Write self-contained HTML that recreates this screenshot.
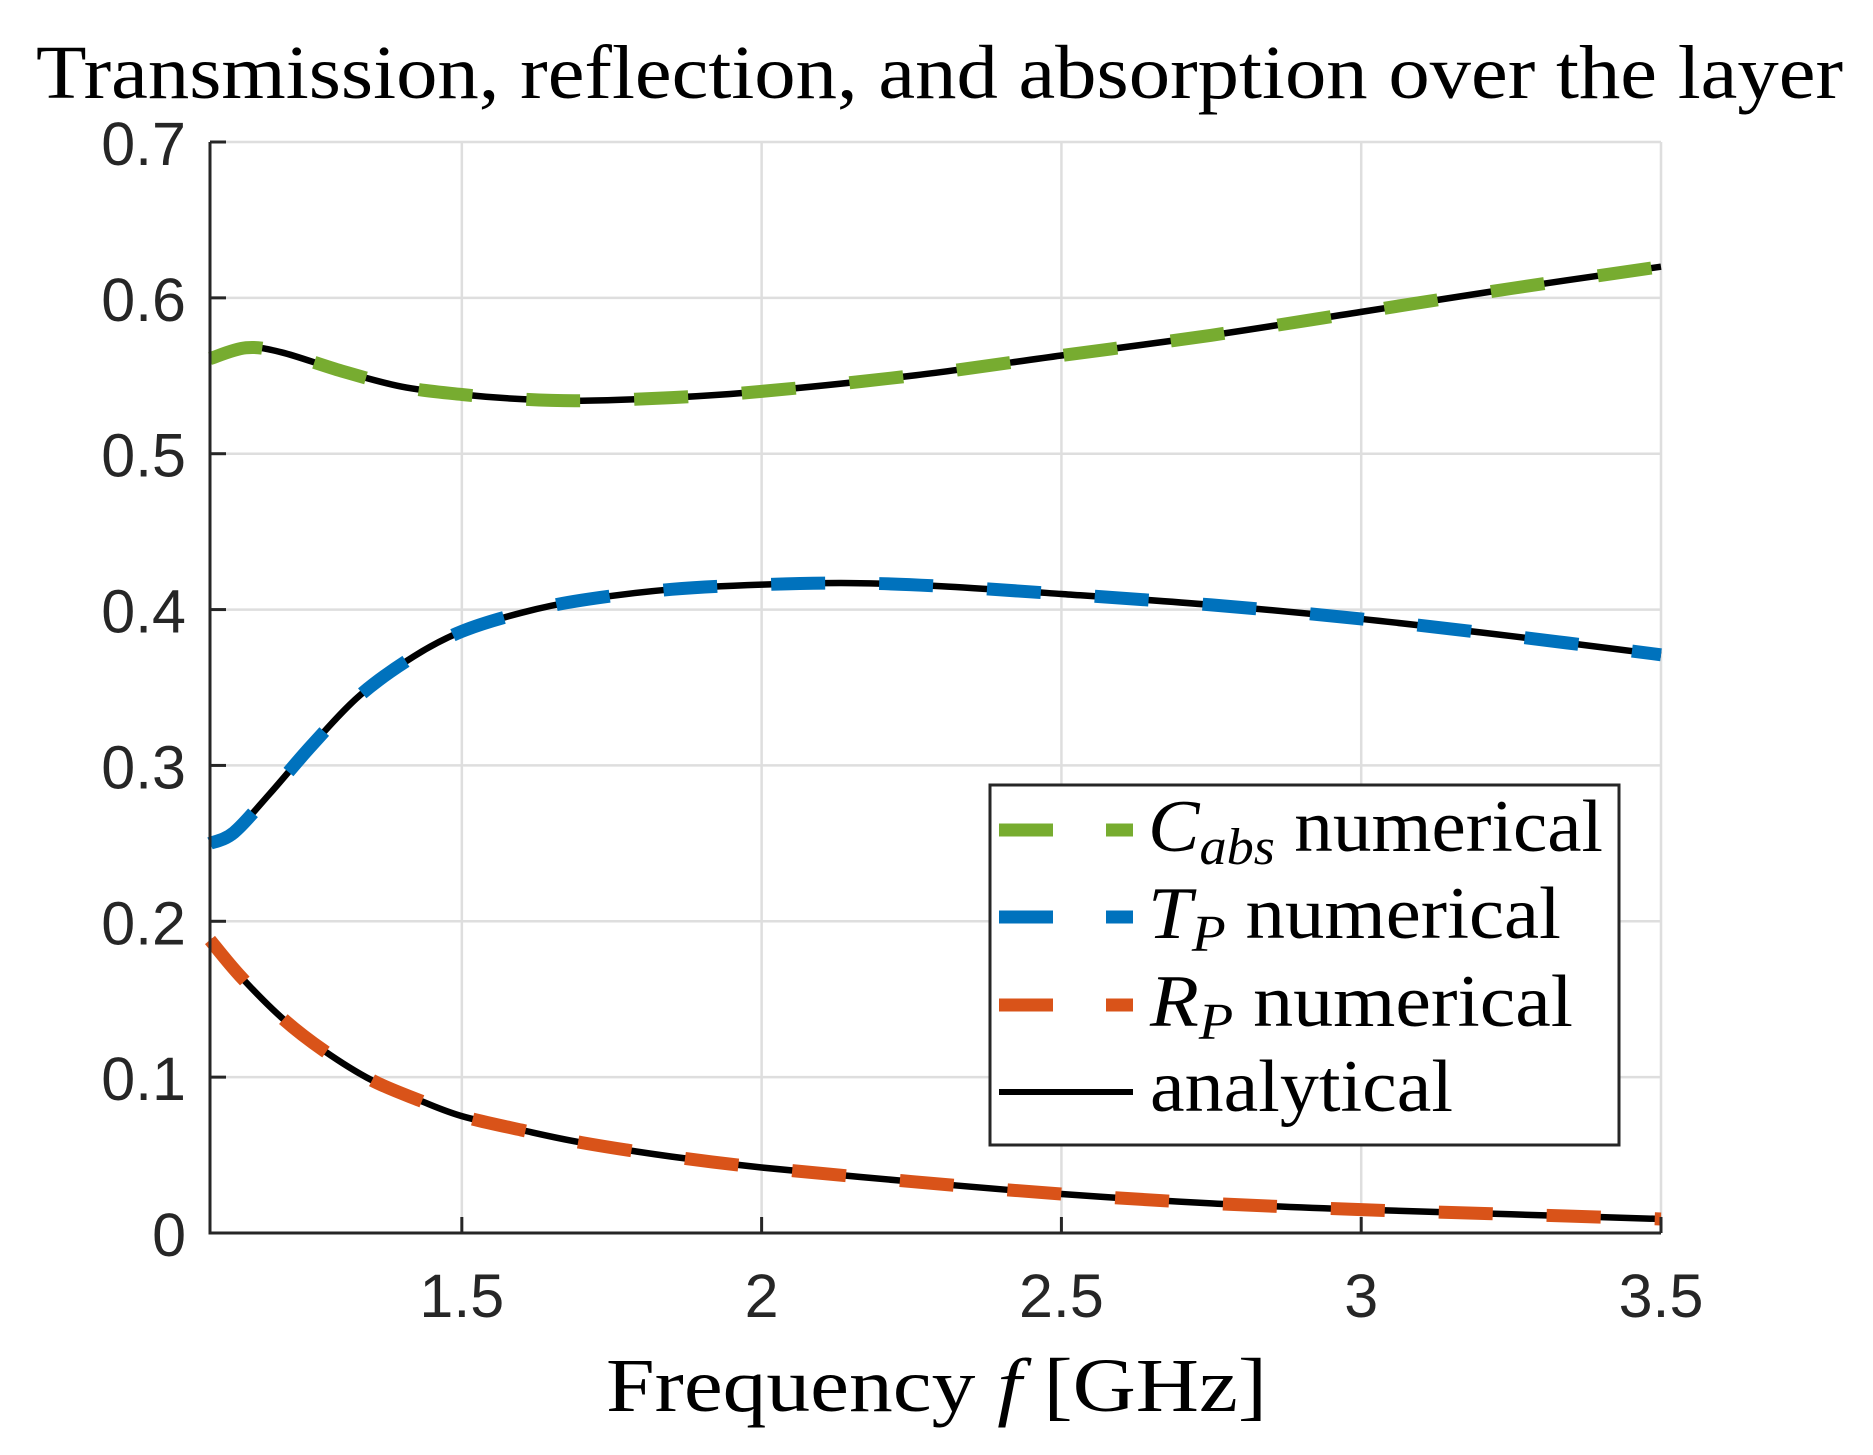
<!DOCTYPE html>
<html><head><meta charset="utf-8"><style>
html,body{margin:0;padding:0;background:#fff;}
svg{display:block}
</style></head><body>
<svg id="s" width="1873" height="1455" viewBox="0 0 1873 1455" xmlns="http://www.w3.org/2000/svg">
<rect width="1873" height="1455" fill="#fff"/>
<g id="grid" stroke="#dedede" stroke-width="2.5"></g>
<g id="curves" fill="none"></g>
<g id="axes" stroke="#262626" stroke-width="3" fill="none"></g>
<g font-family="Liberation Sans, sans-serif" font-size="61" fill="#262626" id="labels"></g>
<text x="36" y="98" font-family="Liberation Serif, serif" font-size="76" textLength="1807" lengthAdjust="spacingAndGlyphs">Transmission, reflection, and absorption over the layer</text>
<text x="606" y="1411" font-family="Liberation Serif, serif" font-size="76" textLength="661" lengthAdjust="spacingAndGlyphs">Frequency <tspan font-style="italic">f</tspan> [GHz]</text>
<g>
<rect x="990" y="785" width="629" height="360" fill="#fff" stroke="#262626" stroke-width="3"/>
<line x1="999" y1="830" x2="1133" y2="830" stroke="#77ac30" stroke-width="13" stroke-dasharray="54 53"/>
<line x1="999" y1="917" x2="1133" y2="917" stroke="#0072bd" stroke-width="13" stroke-dasharray="54 53"/>
<line x1="999" y1="1005" x2="1133" y2="1005" stroke="#d95319" stroke-width="13" stroke-dasharray="54 53"/>
<line x1="999" y1="1092" x2="1133" y2="1092" stroke="#000" stroke-width="6"/>
<g font-family="Liberation Serif, serif" font-size="74" fill="#000">
<text x="1148" y="851" textLength="455" lengthAdjust="spacingAndGlyphs"><tspan font-style="italic">C</tspan><tspan font-style="italic" font-size="52" dy="13">abs</tspan><tspan dy="-13"> numerical</tspan></text>
<text x="1148" y="938" textLength="413" lengthAdjust="spacingAndGlyphs"><tspan font-style="italic">T</tspan><tspan font-style="italic" font-size="52" dy="13">P</tspan><tspan dy="-13"> numerical</tspan></text>
<text x="1150" y="1026" textLength="423" lengthAdjust="spacingAndGlyphs"><tspan font-style="italic">R</tspan><tspan font-style="italic" font-size="52" dy="13">P</tspan><tspan dy="-13"> numerical</tspan></text>
<text x="1150" y="1111" textLength="303" lengthAdjust="spacingAndGlyphs">analytical</text>
</g>
</g>
</svg>
<script>
var L=210,R=1661,T=142,B=1233,x0=1.08,x1=3.5;
function X(f){return L+(f-x0)/(x1-x0)*(R-L);}
function Y(v){return B-v/0.7*(B-T);}
var NS="http://www.w3.org/2000/svg";
function el(p,t,a,txt){var e=document.createElementNS(NS,t);for(var k in a)e.setAttribute(k,a[k]);if(txt)e.textContent=txt;p.appendChild(e);return e;}
var g=document.getElementById('grid'),ax=document.getElementById('axes'),lb=document.getElementById('labels');
[1.5,2,2.5,3,3.5].forEach(function(f){var x=X(f);el(g,'line',{x1:x,y1:T,x2:x,y2:B});el(ax,'line',{x1:x,y1:B,x2:x,y2:B-16});el(lb,'text',{x:x,y:1317,'text-anchor':'middle'},String(f));});
for(var i=0;i<=7;i++){var v=i/10,y=Y(v);if(i>0)el(g,'line',{x1:L,y1:y,x2:R,y2:y});el(ax,'line',{x1:L,y1:y,x2:L+16,y2:y});el(lb,'text',{x:186,y:y+23,'text-anchor':'end'},i==0?'0':v.toFixed(1));}
el(ax,'path',{d:'M'+L+','+T+'V'+B+'H'+R});
function path(pts){
 var P=pts.map(function(p){return [X(p[0]),Y(p[1])];});
 var d='M'+P[0][0]+','+P[0][1];
 for(var i=0;i<P.length-1;i++){var p0=P[i-1]||P[i],p1=P[i],p2=P[i+1],p3=P[i+2]||P[i+1];
  d+='C'+(p1[0]+(p2[0]-p0[0])/6)+','+(p1[1]+(p2[1]-p0[1])/6)+' '+(p2[0]-(p3[0]-p1[0])/6)+','+(p2[1]-(p3[1]-p1[1])/6)+' '+p2[0]+','+p2[1];}
 return d;}
var C=[[1.08,0.561],[1.14,0.568],[1.2,0.565],[1.3,0.553],[1.4,0.543],[1.5,0.538],[1.6,0.535],[1.7,0.534],[1.85,0.536],[2,0.54],[2.25,0.55],[2.5,0.563],[2.75,0.576],[3,0.591],[3.25,0.606],[3.5,0.62]];
var Tp=[[1.08,0.25],[1.12,0.257],[1.18,0.282],[1.25,0.313],[1.33,0.345],[1.42,0.37],[1.5,0.386],[1.6,0.398],[1.7,0.406],[1.85,0.413],[2,0.416],[2.15,0.417],[2.3,0.415],[2.5,0.41],[2.75,0.403],[3,0.394],[3.25,0.383],[3.5,0.371]];
var Rp=[[1.08,0.188],[1.13,0.165],[1.2,0.138],[1.27,0.117],[1.35,0.098],[1.43,0.085],[1.5,0.075],[1.6,0.066],[1.7,0.058],[1.85,0.049],[2,0.042],[2.25,0.033],[2.5,0.025],[2.75,0.019],[3,0.015],[3.25,0.012],[3.5,0.009]];
var cg=document.getElementById('curves');
[C,Tp,Rp].forEach(function(s){el(cg,'path',{d:path(s),stroke:'#000','stroke-width':6.5});});
el(cg,'path',{d:path(C),stroke:'#77ac30','stroke-width':13,'stroke-dasharray':'54 54','stroke-dashoffset':0});
el(cg,'path',{d:path(Tp),stroke:'#0072bd','stroke-width':13,'stroke-dasharray':'54 54'});
el(cg,'path',{d:path(Rp),stroke:'#d95319','stroke-width':13,'stroke-dasharray':'54 54'});
</script>
</body></html>
